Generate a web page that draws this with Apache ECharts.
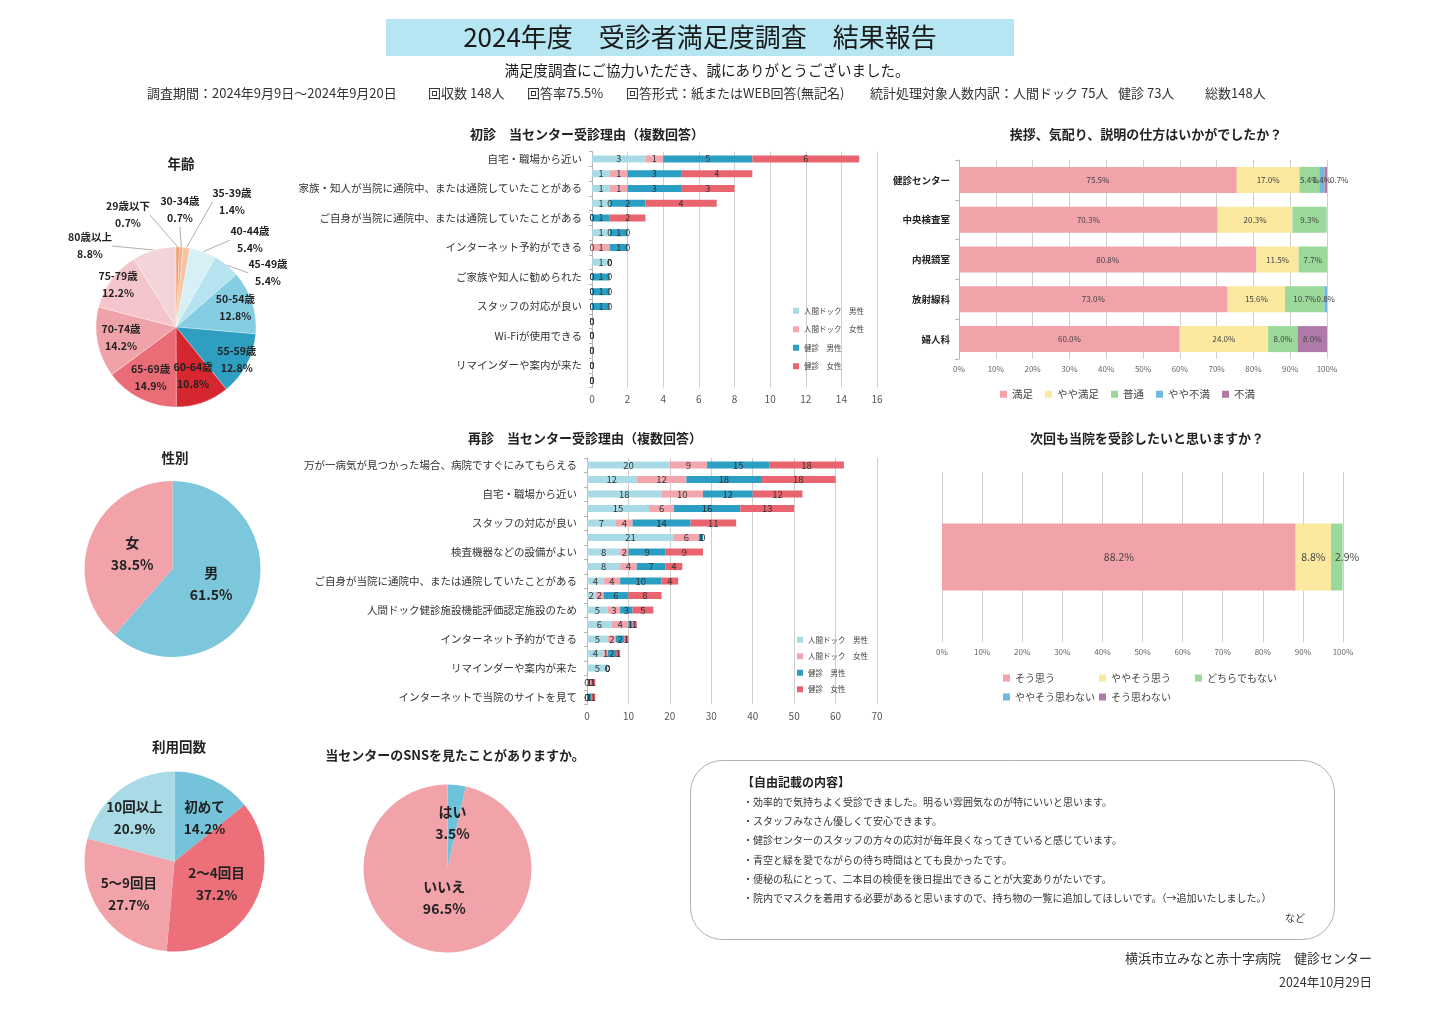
<!DOCTYPE html>
<html><head><meta charset="utf-8">
<script src="https://cdn.jsdelivr.net/npm/echarts@6/dist/echarts.min.js"></script>
<style>html,body{margin:0;padding:0;background:#fff}#c{width:1447px;height:1023px}</style>
</head><body><div id="c"></div>
<script>
const FONT = '"Noto Sans CJK JP","Noto Sans",sans-serif';

// ---------- data ----------
const ageNames = ['29歳以下','30-34歳','35-39歳','40-44歳','45-49歳','50-54歳','55-59歳','60-64歳','65-69歳','70-74歳','75-79歳','80歳以上'];
const agePct = [0.7,0.7,1.4,5.4,5.4,12.8,12.8,10.8,14.9,14.2,12.2,8.8];

const genderNames = ['男','女'];
const genderPct = [61.5,38.5];

const visitNames = ['初めて','2～4回目','5～9回目','10回以上'];
const visitPct = [14.2,37.2,27.7,20.9];

const snsNames = ['はい','いいえ'];
const snsPct = [3.5,96.5];

const groupNames = ['人間ドック　男性','人間ドック　女性','健診　男性','健診　女性'];

const firstReasons = ['自宅・職場から近い','万が一病気が見つかった場合、病院ですぐにみてもらえる','家族・知人が当院に通院中、または通院していたことがある','人間ドック健診施設機能評価認定施設のため','ご自身が当院に通院中、または通院していたことがある','検査機器などの設備がよい','インターネット予約ができる','インターネットで当院のサイトを見て','ご家族や知人に勧められた','会社・健保組合の指定','スタッフの対応が良い','待ち時間が短い','Wi-Fiが使用できる','駐車場がある','リマインダーや案内が来た','その他'];
const firstDockM = [3,1,1,1,0,1,0,1,0,0,0,0,0,0,0,0];
const firstDockF = [1,1,1,0,0,0,1,0,0,0,0,0,0,0,0,0];
const firstKenM  = [5,3,3,2,1,1,1,0,1,1,1,0,0,0,0,0];
const firstKenF  = [6,4,3,4,2,0,0,0,0,0,0,0,0,0,0,0];

const revisitReasons = ['万が一病気が見つかった場合、病院ですぐにみてもらえる','継続して受診している','自宅・職場から近い','結果説明がわかりやすい','スタッフの対応が良い','会社・健保組合の指定','検査機器などの設備がよい','待ち時間が短い','ご自身が当院に通院中、または通院していたことがある','家族・知人が当院に通院中、または通院していたことがある','人間ドック健診施設機能評価認定施設のため','ご家族や知人に勧められた','インターネット予約ができる','駐車場がある','リマインダーや案内が来た','Wi-Fiが使用できる','インターネットで当院のサイトを見て'];
const revDockM = [20,12,18,15,7,21,8,8,4,2,5,6,5,4,5,0,0];
const revDockF = [9,12,10,6,4,6,2,4,4,2,3,4,2,1,0,1,0];
const revKenM  = [15,18,12,16,14,1,9,7,10,6,3,1,2,2,0,0,1];
const revKenF  = [18,18,12,13,11,0,9,4,4,8,5,1,1,1,0,1,1];

const satDepts = ['健診センター','中央検査室','内視鏡室','放射線科','婦人科'];
const satLevels = ['満足','やや満足','普通','やや不満','不満'];
const satVery    = [75.5,70.3,80.8,73.0,60.0];
const satSome    = [17.0,20.3,11.5,15.6,24.0];
const satNeutral = [5.4,9.3,7.7,10.7,8.0];
const satSomeDis = [1.4,0,0,0.8,0];
const satDis     = [0.7,0,0,0,8.0];

const nextLevels = ['そう思う','ややそう思う','どちらでもない','ややそう思わない','そう思わない'];
const nextPct = [88.2,8.8,2.9,0,0];

// ---------- styles / layout ----------
const C = {
  dockM:'#a9dbe7', dockF:'#f3a6ad', kenM:'#2a9fc3', kenF:'#e9646f',
  pink:'#f2a3aa', yellow:'#fbe9a0', green:'#9ad99a', blue:'#6fb8e0', purple:'#b07aa8'
};
const ageColors = ['#ee9a6a','#f3b088','#f6c4a4','#d6f0f6','#b5e3ef','#84cde3','#2f9fc1','#d62630','#ea6c77','#f0a2a9','#f4c6cb','#f3d5d9'];
const AGE = {cx:176, cy:327, r:80};
const ageOutsideOffset = {0:[-48,-112],1:[4,-117],2:[56,-125],3:[74,-87],4:[92,-54],11:[-86,-81]};
const ageInsideK = [0,0,0,0,0,0.78,0.86,0.64,0.71,0.7,0.9,0];
const genderK = [0.47,0.49];
const visitK = [0.6,0.53,0.62,0.62];
const visitLabelOffset = {0:[30,-44],3:[-40,-44]};
const snsK = [0.55,0.35];
// legend slots for the 2-row legend of the "next visit" chart: [left, top]
const nextLegendSlots = [[1003,673],[1099,673],[1195,673],[1003,692],[1099,692]];

function stacked(names, arrays, colors, xi, yi, stack, bw, fs){
  return arrays.map((arr,k)=>({
    type:'bar', name:names[k], xAxisIndex:xi, yAxisIndex:yi, stack:stack, data:arr, barWidth:bw,
    itemStyle:{color:colors[k]},
    label:{show:true, position:'inside', fontSize:fs, color:'#333', fontFamily:FONT},
    emphasis:{disabled:true}, animation:false
  }));
}
const pctLabel = p => p.value > 0 ? p.value.toFixed(1)+'%' : '';

function pctSeries(names, arrays, colors, xi, yi, stack, bw, fs, special){
  return arrays.map((arr,k)=>({
    type:'bar', name:names[k], xAxisIndex:xi, yAxisIndex:yi, stack:stack, barWidth:bw,
    data: arr.map((v,j)=>{
      const s = special && special[k+'_'+j];
      return s ? {value:v, label:s} : v;
    }),
    itemStyle:{color:colors[k]},
    label:{show:true, position:'inside', fontSize:fs, color:'#444', formatter:pctLabel, fontFamily:FONT},
    emphasis:{disabled:true}, animation:false
  }));
}

const catAxisBase = {
  type:'category', inverse:true,
  axisLine:{show:true, lineStyle:{color:'#b5b5b5'}},
  axisTick:{show:true, interval:0, length:3, lineStyle:{color:'#b5b5b5'}}
};
const valAxisBase = {
  type:'value', axisLine:{show:false}, axisTick:{show:false},
  splitLine:{show:true, lineStyle:{color:'#cfcfcf'}},
  axisLabel:{color:'#555', fontFamily:FONT}
};

// pie label placement along each slice's mid-angle (computed from the data)
function radialLayout(vals, cx, cy, r, ks, fixed){
  const total = vals.reduce((a,b)=>a+b,0);
  return function(p){
    const i = p.dataIndex;
    const o = fixed && fixed[i];
    if (o) return {x:cx+o[0], y:cy+o[1], align:'center', verticalAlign:'middle', hideOverlap:false};
    let cum = 0; for (let j=0;j<i;j++) cum += vals[j];
    const a = (cum + vals[i]/2)/total*2*Math.PI;
    const k = ks[i];
    return {x:cx + k*r*Math.sin(a), y:cy - k*r*Math.cos(a), align:'center', verticalAlign:'middle', hideOverlap:false};
  };
}

function pie(names, vals, colors, cx, cy, r, lab, ks, fixed){
  return {
    type:'pie', center:[cx,cy], radius:[0,r], startAngle:90, clockwise:true, animation:false,
    emphasis:{disabled:true}, silent:true, avoidLabelOverlap:false,
    data: names.map((n,i)=>({name:n, value:vals[i], itemStyle:{color:colors[i]}})),
    label:Object.assign({show:true, position:'inside', formatter:'{b}\n{c}%', color:'#222', fontWeight:'bold', fontFamily:FONT}, lab),
    labelLine:{show:false}, itemStyle:{borderWidth:0},
    labelLayout: radialLayout(vals, cx, cy, r, ks, fixed)
  };
}

const agePie = pie(ageNames, agePct, ageColors, AGE.cx, AGE.cy, AGE.r, {fontSize:10.5, lineHeight:17}, ageInsideK, ageOutsideOffset);
agePie.data.forEach((d,i)=>{
  if (ageOutsideOffset[i]) {
    d.label = {position:'outside'};
    d.labelLine = {show:true, length:6, length2:0, lineStyle:{color:'#9a9a9a', width:0.8}};
  }
});
agePie.itemStyle = {borderWidth:0.3, borderColor:'#fff'};

// ---------- graphic texts ----------
const T = (x,y,text,size,opt) => Object.assign({type:'text', x:x, y:y, silent:true,
  style:Object.assign({text:text, fontSize:size, fontFamily:FONT, fill:'#222', align:'center', verticalAlign:'middle'}, opt||{})});

const info = [[147,'調査期間：2024年9月9日～2024年9月20日'],[428,'回収数 148人'],[527,'回答率75.5%'],[626,'回答形式：紙またはWEB回答(無記名)'],[870,'統計処理対象人数内訳：人間ドック 75人'],[1118,'健診 73人'],[1205,'総数148人']];
const comments = ['・効率的で気持ちよく受診できました。明るい雰囲気なのが特にいいと思います。','・スタッフみなさん優しくて安心できます。','・健診センターのスタッフの方々の応対が毎年良くなってきていると感じています。','・青空と緑を愛でながらの待ち時間はとても良かったです。','・便秘の私にとって、二本目の検便を後日提出できることが大変ありがたいです。','・院内でマスクを着用する必要があると思いますので、持ち物の一覧に追加してほしいです。（→追加いたしました。）'];

const graphics = [
  {type:'rect', shape:{x:386,y:19,width:628,height:37}, style:{fill:'#b5e6f1'}, silent:true},
  T(700,37.5,'2024年度　受診者満足度調査　結果報告',26,{fill:'#1a1a1a'}),
  T(707,70,'満足度調査にご協力いただき、誠にありがとうございました。',14.5,{fill:'#1a1a1a'}),
  ...info.map(a=>T(a[0],93,a[1],13,{align:'left',fill:'#333'})),
  T(181,164,'年齢',13.5,{fontWeight:'bold'}),
  T(175,458,'性別',13.5,{fontWeight:'bold'}),
  T(179,747,'利用回数',13.5,{fontWeight:'bold'}),
  T(455,755,'当センターのSNSを見たことがありますか。',13,{fontWeight:'bold'}),
  T(587,134,'初診　当センター受診理由（複数回答）',13,{fontWeight:'bold'}),
  T(1146,134,'挨拶、気配り、説明の仕方はいかがでしたか？',13,{fontWeight:'bold'}),
  T(585,438,'再診　当センター受診理由（複数回答）',13,{fontWeight:'bold'}),
  T(1147,438,'次回も当院を受診したいと思いますか？',13,{fontWeight:'bold'}),
  {type:'rect', shape:{x:690.5,y:760.5,width:644,height:179,r:32}, style:{fill:'#fff',stroke:'#b0b0b0',lineWidth:1}, silent:true, z:-1},
  T(742,782,'【自由記載の内容】',12,{align:'left',fontWeight:'bold'}),
  ...comments.map((c,i)=>T(743,802+i*19.3,c,10,{align:'left',fill:'#333'})),
  T(1295,918,'など',10,{fill:'#333'}),
  T(1372,958,'横浜市立みなと赤十字病院　健診センター',13,{align:'right',fill:'#333'}),
  T(1372,982,'2024年10月29日',12.5,{align:'right',fill:'#333'})
];

const legendBase = {icon:'rect', padding:0, selectedMode:false};

// ---------- option ----------
const option = {
  animation:false,
  textStyle:{fontFamily:FONT},
  grid:[
    {left:592, right:570, top:151.6, height:236, outerBoundsMode:'none', containLabel:false},
    {left:587, right:570, top:457.8, height:246.5, outerBoundsMode:'none', containLabel:false},
    {left:959, right:120, top:160, height:199, outerBoundsMode:'none', containLabel:false},
    {left:942, right:104, top:472, height:170, outerBoundsMode:'none', containLabel:false}
  ],
  xAxis:[
    Object.assign({}, valAxisBase, {gridIndex:0, min:0, max:16, interval:2, axisLabel:{fontSize:10, color:'#555', margin:7}}),
    Object.assign({}, valAxisBase, {gridIndex:1, min:0, max:70, interval:10, axisLabel:{fontSize:10, color:'#555', margin:7}}),
    Object.assign({}, valAxisBase, {gridIndex:2, min:0, max:100, interval:10, axisLabel:{fontSize:8, color:'#666', margin:6, formatter:'{value}%'}}),
    Object.assign({}, valAxisBase, {gridIndex:3, min:0, max:100, interval:10, axisLabel:{fontSize:8, color:'#666', margin:6, formatter:'{value}%'}})
  ],
  yAxis:[
    Object.assign({}, catAxisBase, {gridIndex:0, data:firstReasons, axisLabel:{interval:1, fontSize:10.5, color:'#333', margin:10}}),
    Object.assign({}, catAxisBase, {gridIndex:1, data:revisitReasons, axisLabel:{interval:1, fontSize:10.5, color:'#333', margin:10}}),
    Object.assign({}, catAxisBase, {gridIndex:2, data:satDepts, axisLabel:{interval:0, fontSize:9.5, fontWeight:'bold', color:'#222', margin:9}, axisTick:{show:true, interval:0, length:4, lineStyle:{color:'#b5b5b5'}}}),
    {gridIndex:3, type:'category', data:[''], inverse:true, axisLine:{show:false}, axisTick:{show:false}, axisLabel:{show:false}}
  ],
  legend:[
    Object.assign({data:groupNames, left:793, top:307, orient:'vertical', itemWidth:6, itemHeight:6, itemGap:11, textStyle:{fontSize:7.5, color:'#444'}}, legendBase),
    Object.assign({data:groupNames, left:797, top:636, orient:'vertical', itemWidth:6, itemHeight:6, itemGap:9, textStyle:{fontSize:7.5, color:'#444'}}, legendBase),
    Object.assign({data:satLevels, left:1000, top:389, orient:'horizontal', itemWidth:7, itemHeight:7, itemGap:12, textStyle:{fontSize:10.5, color:'#444'}}, legendBase),
    ...nextLevels.map((n,i)=>Object.assign({data:[n], left:nextLegendSlots[i][0], top:nextLegendSlots[i][1], itemWidth:7, itemHeight:7, itemGap:4, textStyle:{fontSize:10, color:'#444'}}, legendBase))
  ],
  series:[
    ...stacked(groupNames,[firstDockM,firstDockF,firstKenM,firstKenF],[C.dockM,C.dockF,C.kenM,C.kenF],0,0,'first',7,9),
    ...stacked(groupNames,[revDockM,revDockF,revKenM,revKenF],[C.dockM,C.dockF,C.kenM,C.kenF],1,1,'rev',7,9.5),
    ...pctSeries(satLevels,[satVery,satSome,satNeutral,satSomeDis,satDis],[C.pink,C.yellow,C.green,C.blue,C.purple],2,2,'sat',26,8,
      {'4_0':{position:'right', distance:3}}),
    ...pctSeries(nextLevels,nextPct.map(v=>[v]),[C.pink,C.yellow,C.green,C.blue,C.purple],3,3,'next',67,10.5,
      {'2_0':{position:'insideLeft', distance:4}}),
    agePie,
    pie(genderNames, genderPct, ['#7cc7dc','#f2a3aa'], 172.5, 569, 88, {fontSize:14, lineHeight:22}, genderK),
    pie(visitNames, visitPct, ['#74c3da','#ec6f7a','#f2a3aa','#a8dbe6'], 174.5, 861.5, 90, {fontSize:13.5, lineHeight:22}, visitK, visitLabelOffset),
    pie(snsNames, snsPct, ['#6ec3da','#f2a3aa'], 447.5, 868.5, 84, {fontSize:14, lineHeight:22}, snsK)
  ],
  graphic:graphics
};

const chart = echarts.init(document.getElementById('c'), null, {renderer:'canvas'});
chart.setOption(option);
</script>
</body></html>
